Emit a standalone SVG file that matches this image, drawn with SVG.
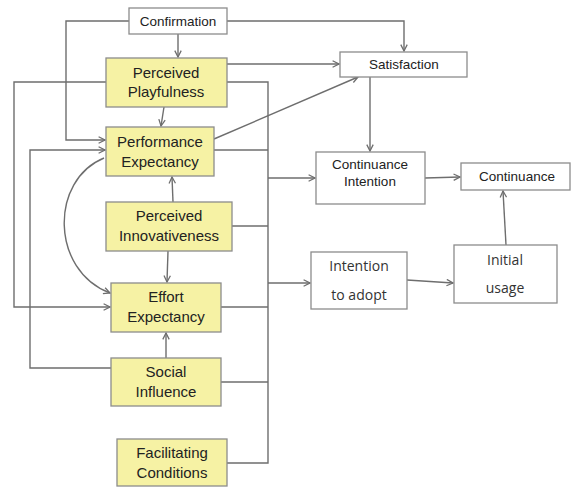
<svg xmlns="http://www.w3.org/2000/svg" width="571" height="487" viewBox="0 0 571 487">
<style>
.y{fill:#f6f2a4;stroke:#8c8c8c;stroke-width:1.3}
.w{fill:#fff;stroke:#8c8c8c;stroke-width:1.3}
.t{font-family:"Liberation Sans",Arial,sans-serif;font-size:15px;fill:#222;text-anchor:middle}
.s{font-family:"Liberation Sans",Arial,sans-serif;font-size:13.5px;fill:#222;text-anchor:middle}
.o{font-family:"Open Sans","Noto Sans",sans-serif;font-size:14px;fill:#333;text-anchor:middle}
.c path{fill:none;stroke:#6e6e6e;stroke-width:1.4}
</style>
<defs>
<marker id="a" viewBox="0 0 10 10" refX="9" refY="5" markerWidth="8" markerHeight="8" markerUnits="userSpaceOnUse" orient="auto">
<path d="M1,1 L9,5 L1,9" fill="none" stroke="#6e6e6e" stroke-width="1.6"/>
</marker>
</defs>
<rect width="571" height="487" fill="#fff"/>
<g class="c">
<path d="M129,21 H66 V140 H105" marker-end="url(#a)"/>
<path d="M227,21 H404 V51" marker-end="url(#a)"/>
<path d="M178,34 V57" marker-end="url(#a)"/>
<path d="M164,107 L161,126" marker-end="url(#a)"/>
<path d="M227,64 H339" marker-end="url(#a)"/>
<path d="M106,82 H14 V307 H110" marker-end="url(#a)"/>
<path d="M227,82 H268 V463 H227"/>
<path d="M214,150 H268"/>
<path d="M214,139 L358,77" marker-end="url(#a)"/>
<path d="M111,368 H30 V150 H105" marker-end="url(#a)"/>
<path d="M104,158 C50,180 50,270 110,293" marker-end="url(#a)"/>
<path d="M173,202 L172,177" marker-end="url(#a)"/>
<path d="M168,251 L167,282" marker-end="url(#a)"/>
<path d="M232,226 H268"/>
<path d="M221,307 H268"/>
<path d="M166,358 V333" marker-end="url(#a)"/>
<path d="M221,382 H268"/>
<path d="M268,178 H315" marker-end="url(#a)"/>
<path d="M268,283 H310" marker-end="url(#a)"/>
<path d="M370,77 V151" marker-end="url(#a)"/>
<path d="M425,178 L460,177" marker-end="url(#a)"/>
<path d="M407,280 L453,283" marker-end="url(#a)"/>
<path d="M506,245 L503,191" marker-end="url(#a)"/>
</g>
<g id="confirmation"><rect class="w" x="129" y="8" width="98" height="26"/><text class="s" x="178" y="26">Confirmation</text></g>
<g id="playfulness"><rect class="y" x="106" y="58" width="121" height="49"/><text class="t" x="166" y="78">Perceived</text><text class="t" x="166" y="97">Playfulness</text></g>
<g id="performance"><rect class="y" x="106" y="127" width="108" height="49"/><text class="t" x="160" y="147">Performance</text><text class="t" x="160" y="167">Expectancy</text></g>
<g id="innovativeness"><rect class="y" x="106" y="202" width="126" height="49"/><text class="t" x="169" y="221">Perceived</text><text class="t" x="169" y="241">Innovativeness</text></g>
<g id="effort"><rect class="y" x="111" y="283" width="110" height="49"/><text class="t" x="166" y="302">Effort</text><text class="t" x="166" y="322">Expectancy</text></g>
<g id="social"><rect class="y" x="111" y="358" width="110" height="48"/><text class="t" x="166" y="377">Social</text><text class="t" x="166" y="397">Influence</text></g>
<g id="facilitating"><rect class="y" x="117" y="439" width="110" height="47"/><text class="t" x="172" y="458">Facilitating</text><text class="t" x="172" y="478">Conditions</text></g>
<g id="satisfaction"><rect class="w" x="340" y="52" width="127" height="25"/><text class="s" x="404" y="69">Satisfaction</text></g>
<g id="cont-intention"><rect class="w" x="316" y="152" width="109" height="52"/><text class="s" x="370" y="169">Continuance</text><text class="s" x="370" y="186">Intention</text></g>
<g id="continuance"><rect class="w" x="461" y="163" width="109" height="27"/><text class="s" x="517" y="181">Continuance</text></g>
<g id="intention-adopt"><rect class="w" x="311" y="252" width="96" height="57"/><text class="o" x="359" y="271">Intention</text><text class="o" x="359" y="300">to adopt</text></g>
<g id="initial-usage"><rect class="w" x="454" y="245" width="103" height="58"/><text class="o" x="505" y="265">Initial</text><text class="o" x="505" y="293">usage</text></g>
</svg>
